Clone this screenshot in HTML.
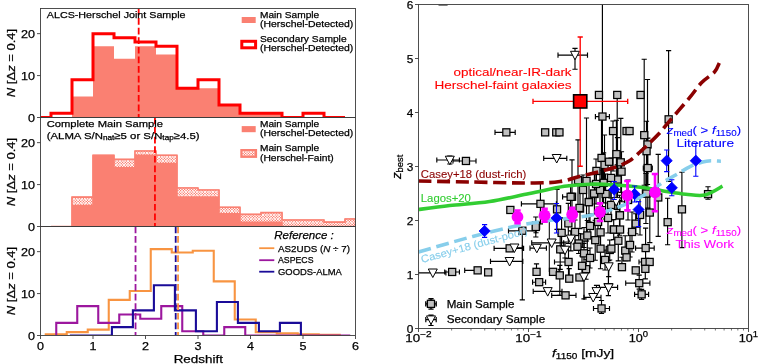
<!DOCTYPE html>
<html><head><meta charset="utf-8"><title>figure</title>
<style>
html,body{margin:0;padding:0;background:#fff;}
body{width:758px;height:364px;overflow:hidden;font-family:"Liberation Sans",sans-serif;}
svg{display:block;will-change:transform;opacity:0.999}
svg text{font-family:"Liberation Sans",sans-serif;}
</style></head><body>
<svg width="758" height="364" viewBox="0 0 758 364">
<rect width="758" height="364" fill="#fff"/>
<clipPath id="c0"><rect x="40.5" y="8.5" width="315.0" height="109.0"/></clipPath>
<clipPath id="c1"><rect x="40.5" y="117.5" width="315.0" height="109.0"/></clipPath>
<clipPath id="c2"><rect x="40.5" y="226.5" width="315.0" height="109.0"/></clipPath>
<g clip-path="url(#c0)">
<path d="M51.00,117.50 L51.00,117.50 L72.00,117.50 L72.00,96.54 L93.00,96.54 L93.00,46.23 L114.00,46.23 L114.00,58.81 L135.00,58.81 L135.00,46.23 L156.00,46.23 L156.00,54.62 L177.00,54.62 L177.00,88.15 L198.00,88.15 L198.00,88.15 L219.00,88.15 L219.00,104.92 L240.00,104.92 L240.00,113.31 L261.00,113.31 L261.00,113.31 L282.00,113.31 L282.00,117.50 L303.00,117.50 L303.00,117.50 L324.00,117.50 L324.00,117.50 L345.00,117.50 L345.00,117.50 L355.50,117.50 L355.50,117.50 Z" fill="#fa8072" stroke="none"/>
<path d="M40.50,117.50 L51.00,117.50 L51.00,113.31 L72.00,113.31 L72.00,79.77 L93.00,79.77 L93.00,33.65 L114.00,33.65 L114.00,37.85 L135.00,37.85 L135.00,42.04 L156.00,42.04 L156.00,46.23 L177.00,46.23 L177.00,88.15 L198.00,88.15 L198.00,79.77 L219.00,79.77 L219.00,104.92 L240.00,104.92 L240.00,113.31 L261.00,113.31 L261.00,113.31 L282.00,113.31 L282.00,117.50 L303.00,117.50 L303.00,113.31 L324.00,113.31 L324.00,117.50 L345.00,117.50 L345.00,117.50" fill="none" stroke="#ff0000" stroke-width="3" stroke-linejoin="miter"/>
<line x1="138.68" x2="138.68" y1="8.5" y2="117.5" stroke="#ff0000" stroke-width="1.8" stroke-dasharray="6.7,2.9"/>
</g>
<pattern id="hx" width="3" height="3" patternUnits="userSpaceOnUse" patternTransform="translate(0.5,0.5)"><rect width="3" height="3" fill="#fa8072"/><path d="M-1,-1L4,4M4,-1L-1,4" stroke="#fff" stroke-width="1.05"/></pattern>
<g clip-path="url(#c1)">
<path d="M40.50,226.50 L51.00,226.50 L51.00,226.50 L72.00,226.50 L72.00,197.15 L93.00,197.15 L93.00,155.23 L114.00,155.23 L114.00,159.42 L135.00,159.42 L135.00,151.04 L156.00,151.04 L156.00,155.23 L177.00,155.23 L177.00,187.93 L198.00,187.93 L198.00,190.03 L219.00,190.03 L219.00,207.22 L240.00,207.22 L240.00,214.34 L261.00,214.34 L261.00,212.67 L282.00,212.67 L282.00,220.00 L303.00,220.00 L303.00,220.00 L324.00,220.00 L324.00,222.10 L345.00,222.10 L345.00,218.95 L355.50,218.95 L355.50,226.50 Z" fill="#fa8072" stroke="#fa8072" stroke-width="1"/>
<clipPath id="hc"><path d="M51.00,226.50 L72.00,226.50 L72.00,197.15 L93.00,197.15 L93.00,155.23 L114.00,155.23 L114.00,159.42 L135.00,159.42 L135.00,151.04 L156.00,151.04 L156.00,155.23 L177.00,155.23 L177.00,187.93 L198.00,187.93 L198.00,190.03 L219.00,190.03 L219.00,207.22 L240.00,207.22 L240.00,214.34 L261.00,214.34 L261.00,212.67 L282.00,212.67 L282.00,220.00 L303.00,220.00 L303.00,220.00 L324.00,220.00 L324.00,222.10 L345.00,222.10 L345.00,218.95 L355.50,218.95 L355.50,226.50 L345.00,226.50 L345.00,226.50 L324.00,226.50 L324.00,226.50 L303.00,226.50 L303.00,226.50 L282.00,226.50 L282.00,222.31 L261.00,222.31 L261.00,222.31 L240.00,222.31 L240.00,213.92 L219.00,213.92 L219.00,197.15 L198.00,197.15 L198.00,197.15 L177.00,197.15 L177.00,163.62 L156.00,163.62 L156.00,155.23 L135.00,155.23 L135.00,167.81 L114.00,167.81 L114.00,155.23 L93.00,155.23 L93.00,205.54 L72.00,205.54 L72.00,226.50 L51.00,226.50Z"/></clipPath>
<path d="M51.00,226.50 L72.00,226.50 L72.00,197.15 L93.00,197.15 L93.00,155.23 L114.00,155.23 L114.00,159.42 L135.00,159.42 L135.00,151.04 L156.00,151.04 L156.00,155.23 L177.00,155.23 L177.00,187.93 L198.00,187.93 L198.00,190.03 L219.00,190.03 L219.00,207.22 L240.00,207.22 L240.00,214.34 L261.00,214.34 L261.00,212.67 L282.00,212.67 L282.00,220.00 L303.00,220.00 L303.00,220.00 L324.00,220.00 L324.00,222.10 L345.00,222.10 L345.00,218.95 L355.50,218.95 L355.50,226.50 L345.00,226.50 L345.00,226.50 L324.00,226.50 L324.00,226.50 L303.00,226.50 L303.00,226.50 L282.00,226.50 L282.00,222.31 L261.00,222.31 L261.00,222.31 L240.00,222.31 L240.00,213.92 L219.00,213.92 L219.00,197.15 L198.00,197.15 L198.00,197.15 L177.00,197.15 L177.00,163.62 L156.00,163.62 L156.00,155.23 L135.00,155.23 L135.00,167.81 L114.00,167.81 L114.00,155.23 L93.00,155.23 L93.00,205.54 L72.00,205.54 L72.00,226.50 L51.00,226.50Z" fill="#fa8072" stroke="none"/>
<path d="M-7.65,146.85l79.65,79.65M72.00,146.85l-79.65,79.65M-4.95,146.85l79.65,79.65M74.70,146.85l-79.65,79.65M-2.25,146.85l79.65,79.65M77.40,146.85l-79.65,79.65M0.45,146.85l79.65,79.65M80.10,146.85l-79.65,79.65M3.15,146.85l79.65,79.65M82.80,146.85l-79.65,79.65M5.85,146.85l79.65,79.65M85.50,146.85l-79.65,79.65M8.55,146.85l79.65,79.65M88.20,146.85l-79.65,79.65M11.25,146.85l79.65,79.65M90.90,146.85l-79.65,79.65M13.95,146.85l79.65,79.65M93.60,146.85l-79.65,79.65M16.65,146.85l79.65,79.65M96.30,146.85l-79.65,79.65M19.35,146.85l79.65,79.65M99.00,146.85l-79.65,79.65M22.05,146.85l79.65,79.65M101.70,146.85l-79.65,79.65M24.75,146.85l79.65,79.65M104.40,146.85l-79.65,79.65M27.45,146.85l79.65,79.65M107.10,146.85l-79.65,79.65M30.15,146.85l79.65,79.65M109.80,146.85l-79.65,79.65M32.85,146.85l79.65,79.65M112.50,146.85l-79.65,79.65M35.55,146.85l79.65,79.65M115.20,146.85l-79.65,79.65M38.25,146.85l79.65,79.65M117.90,146.85l-79.65,79.65M40.95,146.85l79.65,79.65M120.60,146.85l-79.65,79.65M43.65,146.85l79.65,79.65M123.30,146.85l-79.65,79.65M46.35,146.85l79.65,79.65M126.00,146.85l-79.65,79.65M49.05,146.85l79.65,79.65M128.70,146.85l-79.65,79.65M51.75,146.85l79.65,79.65M131.40,146.85l-79.65,79.65M54.45,146.85l79.65,79.65M134.10,146.85l-79.65,79.65M57.15,146.85l79.65,79.65M136.80,146.85l-79.65,79.65M59.85,146.85l79.65,79.65M139.50,146.85l-79.65,79.65M62.55,146.85l79.65,79.65M142.20,146.85l-79.65,79.65M65.25,146.85l79.65,79.65M144.90,146.85l-79.65,79.65M67.95,146.85l79.65,79.65M147.60,146.85l-79.65,79.65M70.65,146.85l79.65,79.65M150.30,146.85l-79.65,79.65M73.35,146.85l79.65,79.65M153.00,146.85l-79.65,79.65M76.05,146.85l79.65,79.65M155.70,146.85l-79.65,79.65M78.75,146.85l79.65,79.65M158.40,146.85l-79.65,79.65M81.45,146.85l79.65,79.65M161.10,146.85l-79.65,79.65M84.15,146.85l79.65,79.65M163.80,146.85l-79.65,79.65M86.85,146.85l79.65,79.65M166.50,146.85l-79.65,79.65M89.55,146.85l79.65,79.65M169.20,146.85l-79.65,79.65M92.25,146.85l79.65,79.65M171.90,146.85l-79.65,79.65M94.95,146.85l79.65,79.65M174.60,146.85l-79.65,79.65M97.65,146.85l79.65,79.65M177.30,146.85l-79.65,79.65M100.35,146.85l79.65,79.65M180.00,146.85l-79.65,79.65M103.05,146.85l79.65,79.65M182.70,146.85l-79.65,79.65M105.75,146.85l79.65,79.65M185.40,146.85l-79.65,79.65M108.45,146.85l79.65,79.65M188.10,146.85l-79.65,79.65M111.15,146.85l79.65,79.65M190.80,146.85l-79.65,79.65M113.85,146.85l79.65,79.65M193.50,146.85l-79.65,79.65M116.55,146.85l79.65,79.65M196.20,146.85l-79.65,79.65M119.25,146.85l79.65,79.65M198.90,146.85l-79.65,79.65M121.95,146.85l79.65,79.65M201.60,146.85l-79.65,79.65M124.65,146.85l79.65,79.65M204.30,146.85l-79.65,79.65M127.35,146.85l79.65,79.65M207.00,146.85l-79.65,79.65M130.05,146.85l79.65,79.65M209.70,146.85l-79.65,79.65M132.75,146.85l79.65,79.65M212.40,146.85l-79.65,79.65M135.45,146.85l79.65,79.65M215.10,146.85l-79.65,79.65M138.15,146.85l79.65,79.65M217.80,146.85l-79.65,79.65M140.85,146.85l79.65,79.65M220.50,146.85l-79.65,79.65M143.55,146.85l79.65,79.65M223.20,146.85l-79.65,79.65M146.25,146.85l79.65,79.65M225.90,146.85l-79.65,79.65M148.95,146.85l79.65,79.65M228.60,146.85l-79.65,79.65M151.65,146.85l79.65,79.65M231.30,146.85l-79.65,79.65M154.35,146.85l79.65,79.65M234.00,146.85l-79.65,79.65M157.05,146.85l79.65,79.65M236.70,146.85l-79.65,79.65M159.75,146.85l79.65,79.65M239.40,146.85l-79.65,79.65M162.45,146.85l79.65,79.65M242.10,146.85l-79.65,79.65M165.15,146.85l79.65,79.65M244.80,146.85l-79.65,79.65M167.85,146.85l79.65,79.65M247.50,146.85l-79.65,79.65M170.55,146.85l79.65,79.65M250.20,146.85l-79.65,79.65M173.25,146.85l79.65,79.65M252.90,146.85l-79.65,79.65M175.95,146.85l79.65,79.65M255.60,146.85l-79.65,79.65M178.65,146.85l79.65,79.65M258.30,146.85l-79.65,79.65M181.35,146.85l79.65,79.65M261.00,146.85l-79.65,79.65M184.05,146.85l79.65,79.65M263.70,146.85l-79.65,79.65M186.75,146.85l79.65,79.65M266.40,146.85l-79.65,79.65M189.45,146.85l79.65,79.65M269.10,146.85l-79.65,79.65M192.15,146.85l79.65,79.65M271.80,146.85l-79.65,79.65M194.85,146.85l79.65,79.65M274.50,146.85l-79.65,79.65M197.55,146.85l79.65,79.65M277.20,146.85l-79.65,79.65M200.25,146.85l79.65,79.65M279.90,146.85l-79.65,79.65M202.95,146.85l79.65,79.65M282.60,146.85l-79.65,79.65M205.65,146.85l79.65,79.65M285.30,146.85l-79.65,79.65M208.35,146.85l79.65,79.65M288.00,146.85l-79.65,79.65M211.05,146.85l79.65,79.65M290.70,146.85l-79.65,79.65M213.75,146.85l79.65,79.65M293.40,146.85l-79.65,79.65M216.45,146.85l79.65,79.65M296.10,146.85l-79.65,79.65M219.15,146.85l79.65,79.65M298.80,146.85l-79.65,79.65M221.85,146.85l79.65,79.65M301.50,146.85l-79.65,79.65M224.55,146.85l79.65,79.65M304.20,146.85l-79.65,79.65M227.25,146.85l79.65,79.65M306.90,146.85l-79.65,79.65M229.95,146.85l79.65,79.65M309.60,146.85l-79.65,79.65M232.65,146.85l79.65,79.65M312.30,146.85l-79.65,79.65M235.35,146.85l79.65,79.65M315.00,146.85l-79.65,79.65M238.05,146.85l79.65,79.65M317.70,146.85l-79.65,79.65M240.75,146.85l79.65,79.65M320.40,146.85l-79.65,79.65M243.45,146.85l79.65,79.65M323.10,146.85l-79.65,79.65M246.15,146.85l79.65,79.65M325.80,146.85l-79.65,79.65M248.85,146.85l79.65,79.65M328.50,146.85l-79.65,79.65M251.55,146.85l79.65,79.65M331.20,146.85l-79.65,79.65M254.25,146.85l79.65,79.65M333.90,146.85l-79.65,79.65M256.95,146.85l79.65,79.65M336.60,146.85l-79.65,79.65M259.65,146.85l79.65,79.65M339.30,146.85l-79.65,79.65M262.35,146.85l79.65,79.65M342.00,146.85l-79.65,79.65M265.05,146.85l79.65,79.65M344.70,146.85l-79.65,79.65M267.75,146.85l79.65,79.65M347.40,146.85l-79.65,79.65M270.45,146.85l79.65,79.65M350.10,146.85l-79.65,79.65M273.15,146.85l79.65,79.65M352.80,146.85l-79.65,79.65M275.85,146.85l79.65,79.65M355.50,146.85l-79.65,79.65M278.55,146.85l79.65,79.65M358.20,146.85l-79.65,79.65M281.25,146.85l79.65,79.65M360.90,146.85l-79.65,79.65M283.95,146.85l79.65,79.65M363.60,146.85l-79.65,79.65M286.65,146.85l79.65,79.65M366.30,146.85l-79.65,79.65M289.35,146.85l79.65,79.65M369.00,146.85l-79.65,79.65M292.05,146.85l79.65,79.65M371.70,146.85l-79.65,79.65M294.75,146.85l79.65,79.65M374.40,146.85l-79.65,79.65M297.45,146.85l79.65,79.65M377.10,146.85l-79.65,79.65M300.15,146.85l79.65,79.65M379.80,146.85l-79.65,79.65M302.85,146.85l79.65,79.65M382.50,146.85l-79.65,79.65M305.55,146.85l79.65,79.65M385.20,146.85l-79.65,79.65M308.25,146.85l79.65,79.65M387.90,146.85l-79.65,79.65M310.95,146.85l79.65,79.65M390.60,146.85l-79.65,79.65M313.65,146.85l79.65,79.65M393.30,146.85l-79.65,79.65M316.35,146.85l79.65,79.65M396.00,146.85l-79.65,79.65M319.05,146.85l79.65,79.65M398.70,146.85l-79.65,79.65M321.75,146.85l79.65,79.65M401.40,146.85l-79.65,79.65M324.45,146.85l79.65,79.65M404.10,146.85l-79.65,79.65M327.15,146.85l79.65,79.65M406.80,146.85l-79.65,79.65M329.85,146.85l79.65,79.65M409.50,146.85l-79.65,79.65M332.55,146.85l79.65,79.65M412.20,146.85l-79.65,79.65M335.25,146.85l79.65,79.65M414.90,146.85l-79.65,79.65M337.95,146.85l79.65,79.65M417.60,146.85l-79.65,79.65M340.65,146.85l79.65,79.65M420.30,146.85l-79.65,79.65M343.35,146.85l79.65,79.65M423.00,146.85l-79.65,79.65M346.05,146.85l79.65,79.65M425.70,146.85l-79.65,79.65M348.75,146.85l79.65,79.65M428.40,146.85l-79.65,79.65M351.45,146.85l79.65,79.65M431.10,146.85l-79.65,79.65M354.15,146.85l79.65,79.65M433.80,146.85l-79.65,79.65M356.85,146.85l79.65,79.65M436.50,146.85l-79.65,79.65M359.55,146.85l79.65,79.65M439.20,146.85l-79.65,79.65M362.25,146.85l79.65,79.65M441.90,146.85l-79.65,79.65M364.95,146.85l79.65,79.65M444.60,146.85l-79.65,79.65M367.65,146.85l79.65,79.65M447.30,146.85l-79.65,79.65M370.35,146.85l79.65,79.65M450.00,146.85l-79.65,79.65M373.05,146.85l79.65,79.65M452.70,146.85l-79.65,79.65M375.75,146.85l79.65,79.65M455.40,146.85l-79.65,79.65M378.45,146.85l79.65,79.65M458.10,146.85l-79.65,79.65M381.15,146.85l79.65,79.65M460.80,146.85l-79.65,79.65M383.85,146.85l79.65,79.65M463.50,146.85l-79.65,79.65M386.55,146.85l79.65,79.65M466.20,146.85l-79.65,79.65M389.25,146.85l79.65,79.65M468.90,146.85l-79.65,79.65M391.95,146.85l79.65,79.65M471.60,146.85l-79.65,79.65M394.65,146.85l79.65,79.65M474.30,146.85l-79.65,79.65M397.35,146.85l79.65,79.65M477.00,146.85l-79.65,79.65M400.05,146.85l79.65,79.65M479.70,146.85l-79.65,79.65M402.75,146.85l79.65,79.65M482.40,146.85l-79.65,79.65M405.45,146.85l79.65,79.65M485.10,146.85l-79.65,79.65M408.15,146.85l79.65,79.65M487.80,146.85l-79.65,79.65M410.85,146.85l79.65,79.65M490.50,146.85l-79.65,79.65M413.55,146.85l79.65,79.65M493.20,146.85l-79.65,79.65M416.25,146.85l79.65,79.65M495.90,146.85l-79.65,79.65M418.95,146.85l79.65,79.65M498.60,146.85l-79.65,79.65M421.65,146.85l79.65,79.65M501.30,146.85l-79.65,79.65M424.35,146.85l79.65,79.65M504.00,146.85l-79.65,79.65M427.05,146.85l79.65,79.65M506.70,146.85l-79.65,79.65M429.75,146.85l79.65,79.65M509.40,146.85l-79.65,79.65M432.45,146.85l79.65,79.65M512.10,146.85l-79.65,79.65M435.15,146.85l79.65,79.65M514.80,146.85l-79.65,79.65" stroke="#fff" stroke-width="0.95" fill="none" clip-path="url(#hc)"/>
<path d="M51.00,226.50 L72.00,226.50 L72.00,197.15 L93.00,197.15 L93.00,155.23 L114.00,155.23 L114.00,159.42 L135.00,159.42 L135.00,151.04 L156.00,151.04 L156.00,155.23 L177.00,155.23 L177.00,187.93 L198.00,187.93 L198.00,190.03 L219.00,190.03 L219.00,207.22 L240.00,207.22 L240.00,214.34 L261.00,214.34 L261.00,212.67 L282.00,212.67 L282.00,220.00 L303.00,220.00 L303.00,220.00 L324.00,220.00 L324.00,222.10 L345.00,222.10 L345.00,218.95 L355.50,218.95 L355.50,226.50 L345.00,226.50 L345.00,226.50 L324.00,226.50 L324.00,226.50 L303.00,226.50 L303.00,226.50 L282.00,226.50 L282.00,222.31 L261.00,222.31 L261.00,222.31 L240.00,222.31 L240.00,213.92 L219.00,213.92 L219.00,197.15 L198.00,197.15 L198.00,197.15 L177.00,197.15 L177.00,163.62 L156.00,163.62 L156.00,155.23 L135.00,155.23 L135.00,167.81 L114.00,167.81 L114.00,155.23 L93.00,155.23 L93.00,205.54 L72.00,205.54 L72.00,226.50 L51.00,226.50Z" fill="none" stroke="#fa8072" stroke-width="1.6" stroke-linejoin="miter"/>
<line x1="154.95" x2="154.95" y1="117.5" y2="226.5" stroke="#ff0000" stroke-width="1.8" stroke-dasharray="6.7,2.9"/>
</g>
<g clip-path="url(#c2)">
<path d="M45.75,335.50 L45.75,334.24 L66.75,334.24 L66.75,332.15 L87.75,332.15 L87.75,329.63 L108.75,329.63 L108.75,299.87 L129.75,299.87 L129.75,291.06 L150.75,291.06 L150.75,249.14 L171.75,249.14 L171.75,252.49 L192.75,252.49 L192.75,250.82 L213.75,250.82 L213.75,281.42 L234.75,281.42 L234.75,319.57 L255.75,319.57 L255.75,332.15 L276.75,332.15 L276.75,333.40 L297.75,333.40 L297.75,334.24 L318.75,334.24 L318.75,334.87 L339.75,334.87 L339.75,335.50" fill="none" stroke="#f89441" stroke-width="2.1"/>
<path d="M56.25,335.50 L56.25,322.92 L77.25,322.92 L77.25,306.15 L98.25,306.15 L98.25,322.92 L119.25,322.92 L119.25,314.54 L140.25,314.54 L140.25,318.73 L161.25,318.73 L161.25,306.15 L182.25,306.15 L182.25,331.31 L203.25,331.31 L203.25,335.50 L224.25,335.50 L224.25,327.12 L245.25,327.12 L245.25,335.50 L266.25,335.50 L266.25,335.50 L287.25,335.50 L287.25,335.50 L308.25,335.50 L308.25,335.50 L329.25,335.50 L329.25,335.50 L350.25,335.50 L350.25,335.50" fill="none" stroke="#9c179e" stroke-width="2.1"/>
<path d="M69.90,335.50 L69.90,335.50 L90.90,335.50 L90.90,335.50 L111.90,335.50 L111.90,327.12 L132.90,327.12 L132.90,310.35 L153.90,310.35 L153.90,285.19 L174.90,285.19 L174.90,310.35 L195.90,310.35 L195.90,331.31 L216.90,331.31 L216.90,301.96 L237.90,301.96 L237.90,322.92 L258.90,322.92 L258.90,331.31 L279.90,331.31 L279.90,322.92 L300.90,322.92 L300.90,335.50" fill="none" stroke="#1a0b98" stroke-width="2.1"/>
<line x1="135.53" x2="135.53" y1="226.5" y2="335.5" stroke="#9c179e" stroke-width="1.8" stroke-dasharray="6.7,2.9"/>
<line x1="178.05" x2="178.05" y1="226.5" y2="335.5" stroke="#f89441" stroke-width="1.8" stroke-dasharray="6.7,2.9"/>
<line x1="175.69" x2="175.69" y1="226.5" y2="335.5" stroke="#1a0b98" stroke-width="1.8" stroke-dasharray="6.7,2.9"/>
</g>
<rect x="40.5" y="8.5" width="315.0" height="109.0" fill="none" stroke="#3c3c3c" stroke-width="0.9"/>
<line x1="37.0" x2="40.5" y1="117.50" y2="117.50" stroke="#3c3c3c" stroke-width="0.9"/>
<text x="35.00" y="121.60" font-size="11.3" fill="#000" text-anchor="end" textLength="7.00" lengthAdjust="spacingAndGlyphs"  stroke="#000" stroke-width="0.25">0</text>
<line x1="37.0" x2="40.5" y1="75.58" y2="75.58" stroke="#3c3c3c" stroke-width="0.9"/>
<text x="35.00" y="79.68" font-size="11.3" fill="#000" text-anchor="end" textLength="14.00" lengthAdjust="spacingAndGlyphs"  stroke="#000" stroke-width="0.25">10</text>
<line x1="37.0" x2="40.5" y1="33.65" y2="33.65" stroke="#3c3c3c" stroke-width="0.9"/>
<text x="35.00" y="37.75" font-size="11.3" fill="#000" text-anchor="end" textLength="14.00" lengthAdjust="spacingAndGlyphs"  stroke="#000" stroke-width="0.25">20</text>
<g transform="translate(15,63.00) rotate(-90)">
<text x="0" y="0" font-size="11.2" text-anchor="middle" textLength="68.5" lengthAdjust="spacingAndGlyphs" stroke="#000" stroke-width="0.25"><tspan font-style="italic">N</tspan> [Δ<tspan font-style="italic">z</tspan> = 0.4]</text>
</g>
<rect x="40.5" y="117.5" width="315.0" height="109.0" fill="none" stroke="#3c3c3c" stroke-width="0.9"/>
<line x1="37.0" x2="40.5" y1="226.50" y2="226.50" stroke="#3c3c3c" stroke-width="0.9"/>
<text x="35.00" y="230.60" font-size="11.3" fill="#000" text-anchor="end" textLength="7.00" lengthAdjust="spacingAndGlyphs"  stroke="#000" stroke-width="0.25">0</text>
<line x1="37.0" x2="40.5" y1="184.58" y2="184.58" stroke="#3c3c3c" stroke-width="0.9"/>
<text x="35.00" y="188.68" font-size="11.3" fill="#000" text-anchor="end" textLength="14.00" lengthAdjust="spacingAndGlyphs"  stroke="#000" stroke-width="0.25">10</text>
<line x1="37.0" x2="40.5" y1="142.65" y2="142.65" stroke="#3c3c3c" stroke-width="0.9"/>
<text x="35.00" y="146.75" font-size="11.3" fill="#000" text-anchor="end" textLength="14.00" lengthAdjust="spacingAndGlyphs"  stroke="#000" stroke-width="0.25">20</text>
<g transform="translate(15,172.00) rotate(-90)">
<text x="0" y="0" font-size="11.2" text-anchor="middle" textLength="68.5" lengthAdjust="spacingAndGlyphs" stroke="#000" stroke-width="0.25"><tspan font-style="italic">N</tspan> [Δ<tspan font-style="italic">z</tspan> = 0.4]</text>
</g>
<rect x="40.5" y="226.5" width="315.0" height="109.0" fill="none" stroke="#3c3c3c" stroke-width="0.9"/>
<line x1="37.0" x2="40.5" y1="335.50" y2="335.50" stroke="#3c3c3c" stroke-width="0.9"/>
<text x="35.00" y="339.60" font-size="11.3" fill="#000" text-anchor="end" textLength="7.00" lengthAdjust="spacingAndGlyphs"  stroke="#000" stroke-width="0.25">0</text>
<line x1="37.0" x2="40.5" y1="293.58" y2="293.58" stroke="#3c3c3c" stroke-width="0.9"/>
<text x="35.00" y="297.68" font-size="11.3" fill="#000" text-anchor="end" textLength="14.00" lengthAdjust="spacingAndGlyphs"  stroke="#000" stroke-width="0.25">10</text>
<line x1="37.0" x2="40.5" y1="251.65" y2="251.65" stroke="#3c3c3c" stroke-width="0.9"/>
<text x="35.00" y="255.75" font-size="11.3" fill="#000" text-anchor="end" textLength="14.00" lengthAdjust="spacingAndGlyphs"  stroke="#000" stroke-width="0.25">20</text>
<g transform="translate(15,281.00) rotate(-90)">
<text x="0" y="0" font-size="11.2" text-anchor="middle" textLength="68.5" lengthAdjust="spacingAndGlyphs" stroke="#000" stroke-width="0.25"><tspan font-style="italic">N</tspan> [Δ<tspan font-style="italic">z</tspan> = 0.4]</text>
</g>
<line x1="40.50" x2="40.50" y1="335.5" y2="339.0" stroke="#3c3c3c" stroke-width="0.9"/>
<text x="40.50" y="349.60" font-size="11.3" fill="#000" text-anchor="middle" textLength="7.00" lengthAdjust="spacingAndGlyphs"  stroke="#000" stroke-width="0.25">0</text>
<line x1="93.00" x2="93.00" y1="335.5" y2="339.0" stroke="#3c3c3c" stroke-width="0.9"/>
<text x="93.00" y="349.60" font-size="11.3" fill="#000" text-anchor="middle" textLength="7.00" lengthAdjust="spacingAndGlyphs"  stroke="#000" stroke-width="0.25">1</text>
<line x1="145.50" x2="145.50" y1="335.5" y2="339.0" stroke="#3c3c3c" stroke-width="0.9"/>
<text x="145.50" y="349.60" font-size="11.3" fill="#000" text-anchor="middle" textLength="7.00" lengthAdjust="spacingAndGlyphs"  stroke="#000" stroke-width="0.25">2</text>
<line x1="198.00" x2="198.00" y1="335.5" y2="339.0" stroke="#3c3c3c" stroke-width="0.9"/>
<text x="198.00" y="349.60" font-size="11.3" fill="#000" text-anchor="middle" textLength="7.00" lengthAdjust="spacingAndGlyphs"  stroke="#000" stroke-width="0.25">3</text>
<line x1="250.50" x2="250.50" y1="335.5" y2="339.0" stroke="#3c3c3c" stroke-width="0.9"/>
<text x="250.50" y="349.60" font-size="11.3" fill="#000" text-anchor="middle" textLength="7.00" lengthAdjust="spacingAndGlyphs"  stroke="#000" stroke-width="0.25">4</text>
<line x1="303.00" x2="303.00" y1="335.5" y2="339.0" stroke="#3c3c3c" stroke-width="0.9"/>
<text x="303.00" y="349.60" font-size="11.3" fill="#000" text-anchor="middle" textLength="7.00" lengthAdjust="spacingAndGlyphs"  stroke="#000" stroke-width="0.25">5</text>
<line x1="355.50" x2="355.50" y1="335.5" y2="339.0" stroke="#3c3c3c" stroke-width="0.9"/>
<text x="355.50" y="349.60" font-size="11.3" fill="#000" text-anchor="middle" textLength="7.00" lengthAdjust="spacingAndGlyphs"  stroke="#000" stroke-width="0.25">6</text>
<text x="198.30" y="363.20" font-size="11.6" fill="#000" text-anchor="middle" textLength="49.30" lengthAdjust="spacingAndGlyphs"  stroke="#000" stroke-width="0.25">Redshift</text>
<text x="46.80" y="18.10" font-size="9.9" fill="#000" text-anchor="start" textLength="138.80" lengthAdjust="spacingAndGlyphs"  stroke="#000" stroke-width="0.25">ALCS-Herschel Joint Sample</text>
<rect x="241.7" y="17" width="14" height="6" fill="#fa8072"/>
<text x="260.00" y="17.50" font-size="9.7" fill="#000" text-anchor="start" textLength="59.20" lengthAdjust="spacingAndGlyphs"  stroke="#000" stroke-width="0.25">Main Sample</text>
<text x="260.00" y="27.30" font-size="9.7" fill="#000" text-anchor="start" textLength="93.20" lengthAdjust="spacingAndGlyphs"  stroke="#000" stroke-width="0.25">(Herschel-Detected)</text>
<rect x="241.8" y="41.3" width="13.8" height="6.5" fill="none" stroke="#ff0000" stroke-width="3"/>
<text x="260.00" y="41.90" font-size="9.7" fill="#000" text-anchor="start" textLength="86.60" lengthAdjust="spacingAndGlyphs"  stroke="#000" stroke-width="0.25">Secondary Sample</text>
<text x="260.00" y="51.30" font-size="9.7" fill="#000" text-anchor="start" textLength="93.20" lengthAdjust="spacingAndGlyphs"  stroke="#000" stroke-width="0.25">(Herschel-Detected)</text>
<text x="46.70" y="127.30" font-size="9.9" fill="#000" text-anchor="start" textLength="116.20" lengthAdjust="spacingAndGlyphs"  stroke="#000" stroke-width="0.25">Complete Main Sample</text>
<text x="46.7" y="138.5" font-size="9.9" textLength="152.9" lengthAdjust="spacingAndGlyphs" stroke="#000" stroke-width="0.25">(ALMA S/N<tspan font-size="7.1" dy="1.8">nat</tspan><tspan dy="-1.8">≥5 or S/N</tspan><tspan font-size="7.1" dy="1.8">tap</tspan><tspan dy="-1.8">≥4.5)</tspan></text>
<rect x="241.7" y="126.1" width="14" height="6.1" fill="#fa8072"/>
<text x="260.00" y="126.70" font-size="9.7" fill="#000" text-anchor="start" textLength="59.20" lengthAdjust="spacingAndGlyphs"  stroke="#000" stroke-width="0.25">Main Sample</text>
<text x="260.00" y="136.10" font-size="9.7" fill="#000" text-anchor="start" textLength="93.20" lengthAdjust="spacingAndGlyphs"  stroke="#000" stroke-width="0.25">(Herschel-Detected)</text>
<rect x="240.3" y="149" width="16.8" height="8.9" fill="#fa8072"/>
<clipPath id="hl"><rect x="242.6" y="151.3" width="11.9" height="4.3"/></clipPath>
<path d="M236.00,150.50l5.90,5.90M241.90,150.50l-5.90,5.90M238.70,150.50l5.90,5.90M244.60,150.50l-5.90,5.90M241.40,150.50l5.90,5.90M247.30,150.50l-5.90,5.90M244.10,150.50l5.90,5.90M250.00,150.50l-5.90,5.90M246.80,150.50l5.90,5.90M252.70,150.50l-5.90,5.90M249.50,150.50l5.90,5.90M255.40,150.50l-5.90,5.90M252.20,150.50l5.90,5.90M258.10,150.50l-5.90,5.90M254.90,150.50l5.90,5.90M260.80,150.50l-5.90,5.90M257.60,150.50l5.90,5.90M263.50,150.50l-5.90,5.90M260.30,150.50l5.90,5.90M266.20,150.50l-5.90,5.90" stroke="#fff" stroke-width="0.95" fill="none" clip-path="url(#hl)"/>
<text x="260.00" y="150.70" font-size="9.7" fill="#000" text-anchor="start" textLength="59.20" lengthAdjust="spacingAndGlyphs"  stroke="#000" stroke-width="0.25">Main Sample</text>
<text x="260.00" y="160.50" font-size="9.7" fill="#000" text-anchor="start" textLength="73.80" lengthAdjust="spacingAndGlyphs"  stroke="#000" stroke-width="0.25">(Herschel-Faint)</text>
<text x="274.3" y="238.7" font-size="11" font-style="italic" textLength="59.5" lengthAdjust="spacingAndGlyphs" stroke="#000" stroke-width="0.25">Reference :</text>
<line x1="259.2" x2="274.3" y1="248.2" y2="248.2" stroke="#f89441" stroke-width="1.8"/>
<line x1="259.2" x2="274.3" y1="260.2" y2="260.2" stroke="#9c179e" stroke-width="1.8"/>
<text x="278.00" y="263.30" font-size="9.7" fill="#000" text-anchor="start" textLength="35.50" lengthAdjust="spacingAndGlyphs"  stroke="#000" stroke-width="0.25">ASPECS</text>
<line x1="259.2" x2="274.3" y1="271.7" y2="271.7" stroke="#1a0b98" stroke-width="1.8"/>
<text x="278.00" y="275.10" font-size="9.7" fill="#000" text-anchor="start" textLength="63.80" lengthAdjust="spacingAndGlyphs"  stroke="#000" stroke-width="0.25">GOODS-ALMA</text>
<text x="278" y="251.6" font-size="9.7" textLength="72" lengthAdjust="spacingAndGlyphs" stroke="#000" stroke-width="0.25">AS2UDS (<tspan font-style="italic">N</tspan> ÷ 7)</text>
<clipPath id="cr"><rect x="418.5" y="4.5" width="330.0" height="324.0"/></clipPath>
<g clip-path="url(#cr)">
<path d="M549.3,220V272" stroke="#000" stroke-width="1.05"/>
<path d="M617.2,94.9V164.9M614.6,164.9H619.8" stroke="#000" stroke-width="1.15" fill="none"/>
<path d="M595.4,116.6H609.4M595.4,114.0V119.2M609.4,114.0V119.2M602.4,3.6V206.6M599.8,3.6H605.0M599.8,206.6H605.0" stroke="#000" stroke-width="1.15" fill="none"/>
<path d="M668.6,50.6V181.3M666.0,50.6H671.2M666.0,181.3H671.2" stroke="#000" stroke-width="1.15" fill="none"/>
<path d="M495.0,132.4H515.2M495.0,129.8V135.0M515.2,129.8V135.0" stroke="#000" stroke-width="1.15" fill="none"/>
<path d="M613.0,121.0V171.0M610.4,121.0H615.6M610.4,171.0H615.6" stroke="#000" stroke-width="1.15" fill="none"/>
<path d="M644.2,59.2V185.2M641.6,59.2H646.8M641.6,185.2H646.8" stroke="#000" stroke-width="1.15" fill="none"/>
<path d="M647.5,79.5V184.5M644.9,79.5H650.1M644.9,184.5H650.1" stroke="#000" stroke-width="1.15" fill="none"/>
<path d="M453.0,161.0H476.0M453.0,158.4V163.6M476.0,158.4V163.6" stroke="#000" stroke-width="1.15" fill="none"/>
<path d="M601.5,118.0V188.0M598.9,118.0H604.1M598.9,188.0H604.1" stroke="#000" stroke-width="1.15" fill="none"/>
<path d="M604.5,135.0V195.0M601.9,135.0H607.1M601.9,195.0H607.1" stroke="#000" stroke-width="1.15" fill="none"/>
<path d="M596.4,171.0V191.0M593.8,191.0H599.0" stroke="#000" stroke-width="1.15" fill="none"/>
<path d="M616.4,120.2V184.2M613.8,120.2H619.0M613.8,184.2H619.0" stroke="#000" stroke-width="1.15" fill="none"/>
<path d="M620.8,118.4V192.4M618.2,118.4H623.4M618.2,192.4H623.4" stroke="#000" stroke-width="1.15" fill="none"/>
<path d="M621.5,151.7V201.7M618.9,151.7H624.1M618.9,201.7H624.1" stroke="#000" stroke-width="1.15" fill="none"/>
<path d="M617.5,137.6V209.6M614.9,137.6H620.1M614.9,209.6H620.1" stroke="#000" stroke-width="1.15" fill="none"/>
<path d="M603.6,152.9V202.9M601.0,152.9H606.2M601.0,202.9H606.2" stroke="#000" stroke-width="1.15" fill="none"/>
<path d="M578.0,139.8V210.2M575.4,139.8H580.6M575.4,210.2H580.6" stroke="#000" stroke-width="1.15" fill="none"/>
<path d="M586.5,118.0V241.0M583.9,118.0H589.1M583.9,241.0H589.1" stroke="#000" stroke-width="1.15" fill="none"/>
<path d="M646.5,121.2V191.2M643.9,121.2H649.1M643.9,191.2H649.1" stroke="#000" stroke-width="1.15" fill="none"/>
<path d="M643.3,168.1H652.3M643.3,165.5V170.7M652.3,165.5V170.7M647.8,138.1V208.1M645.2,138.1H650.4M645.2,208.1H650.4" stroke="#000" stroke-width="1.15" fill="none"/>
<path d="M572.0,159.8V216.8M569.4,159.8H574.6M569.4,216.8H574.6" stroke="#000" stroke-width="1.15" fill="none"/>
<path d="M594.4,174.0V214.0M591.8,174.0H597.0M591.8,214.0H597.0" stroke="#000" stroke-width="1.15" fill="none"/>
<path d="M605.6,174.0V219.0M603.0,174.0H608.2M603.0,219.0H608.2" stroke="#000" stroke-width="1.15" fill="none"/>
<path d="M589.0,182.0V222.0M586.4,182.0H591.6M586.4,222.0H591.6" stroke="#000" stroke-width="1.15" fill="none"/>
<path d="M580.0,183.6V228.6M577.4,183.6H582.6M577.4,228.6H582.6" stroke="#000" stroke-width="1.15" fill="none"/>
<path d="M619.5,195.2V235.2M616.9,195.2H622.1M616.9,235.2H622.1" stroke="#000" stroke-width="1.15" fill="none"/>
<path d="M645.9,173.5V223.5M643.3,173.5H648.5M643.3,223.5H648.5" stroke="#000" stroke-width="1.15" fill="none"/>
<path d="M649.8,192.6V242.6M647.2,192.6H652.4M647.2,242.6H652.4" stroke="#000" stroke-width="1.15" fill="none"/>
<path d="M658.2,154.3V236.4M655.6,154.3H660.8M655.6,236.4H660.8" stroke="#000" stroke-width="1.15" fill="none"/>
<path d="M667.6,198.2V244.7M665.0,198.2H670.2M665.0,244.7H670.2" stroke="#000" stroke-width="1.15" fill="none"/>
<path d="M521.4,203.9H556.4M521.4,201.3V206.5M556.4,201.3V206.5M540.4,182.9V223.9M537.8,182.9H543.0M537.8,223.9H543.0" stroke="#000" stroke-width="1.15" fill="none"/>
<path d="M562.6,196.9H570.6M562.6,194.3V199.5M570.6,184.9V216.9M568.0,184.9H573.2M568.0,216.9H573.2" stroke="#000" stroke-width="1.15" fill="none"/>
<path d="M557.0,189.4V229.4M554.4,189.4H559.6M554.4,229.4H559.6" stroke="#000" stroke-width="1.15" fill="none"/>
<path d="M536.0,225.7V232.7M533.4,232.7H538.6" stroke="#000" stroke-width="1.15" fill="none"/>
<path d="M508.5,230.8H535.8M508.5,228.2V233.4M535.8,228.2V233.4M522.3,230.8V299.8M519.7,299.8H524.9" stroke="#000" stroke-width="1.15" fill="none"/>
<path d="M568.3,203.3V243.3M565.7,203.3H570.9M565.7,243.3H570.9" stroke="#000" stroke-width="1.15" fill="none"/>
<path d="M600.0,170.0V210.0M597.4,170.0H602.6M597.4,210.0H602.6" stroke="#000" stroke-width="1.15" fill="none"/>
<path d="M535.8,217.0V237.0M533.2,217.0H538.4M533.2,237.0H538.4" stroke="#000" stroke-width="1.15" fill="none"/>
<path d="M561.6,217.9V252.9M559.0,217.9H564.2M559.0,252.9H564.2" stroke="#000" stroke-width="1.15" fill="none"/>
<path d="M560.2,234.4V269.4M557.6,234.4H562.8M557.6,269.4H562.8" stroke="#000" stroke-width="1.15" fill="none"/>
<path d="M554.5,262.0H568.5M554.5,259.4V264.6M568.5,247.0V277.0M565.9,247.0H571.1M565.9,277.0H571.1" stroke="#000" stroke-width="1.15" fill="none"/>
<path d="M584.0,227.5V247.5M581.4,227.5H586.6M581.4,247.5H586.6" stroke="#000" stroke-width="1.15" fill="none"/>
<path d="M587.3,220.5V250.5M584.7,220.5H589.9M584.7,250.5H589.9" stroke="#000" stroke-width="1.15" fill="none"/>
<path d="M578.7,233.5V253.5M576.1,233.5H581.3M576.1,253.5H581.3" stroke="#000" stroke-width="1.15" fill="none"/>
<path d="M584.0,243.4V263.4M581.4,243.4H586.6M581.4,263.4H586.6" stroke="#000" stroke-width="1.15" fill="none"/>
<path d="M595.2,220.2V260.2M592.6,220.2H597.8M592.6,260.2H597.8" stroke="#000" stroke-width="1.15" fill="none"/>
<path d="M600.5,217.3V247.3M597.9,217.3H603.1M597.9,247.3H603.1" stroke="#000" stroke-width="1.15" fill="none"/>
<path d="M600.5,233.7V268.7M597.9,233.7H603.1M597.9,268.7H603.1" stroke="#000" stroke-width="1.15" fill="none"/>
<path d="M609.7,240.0V260.0M607.1,240.0H612.3M607.1,260.0H612.3" stroke="#000" stroke-width="1.15" fill="none"/>
<path d="M613.7,219.6V239.6M611.1,219.6H616.3M611.1,239.6H616.3" stroke="#000" stroke-width="1.15" fill="none"/>
<path d="M618.3,230.8V260.8M615.7,230.8H620.9M615.7,260.8H620.9" stroke="#000" stroke-width="1.15" fill="none"/>
<path d="M586.0,259.2V279.2M583.4,259.2H588.6M583.4,279.2H588.6" stroke="#000" stroke-width="1.15" fill="none"/>
<path d="M582.0,255.9V275.9M579.4,255.9H584.6M579.4,275.9H584.6" stroke="#000" stroke-width="1.15" fill="none"/>
<path d="M536.5,263.9V271.9M533.9,263.9H539.1" stroke="#000" stroke-width="1.15" fill="none"/>
<path d="M553.0,271.9H559.0M559.0,269.3V274.5" stroke="#000" stroke-width="1.15" fill="none"/>
<path d="M559.8,265.3V295.3M557.2,265.3H562.4M557.2,295.3H562.4" stroke="#000" stroke-width="1.15" fill="none"/>
<path d="M569.2,268.6V278.6M566.6,268.6H571.8" stroke="#000" stroke-width="1.15" fill="none"/>
<path d="M532.6,282.2H545.6M532.6,279.6V284.8M545.6,279.6V284.8" stroke="#000" stroke-width="1.15" fill="none"/>
<path d="M551.7,295.3H576.0M551.7,292.7V297.9M576.0,292.7V297.9" stroke="#000" stroke-width="1.15" fill="none"/>
<path d="M593.5,308.5H609.5M593.5,305.9V311.1M609.5,305.9V311.1M601.5,300.5V313.5M598.9,300.5H604.1M598.9,313.5H604.1" stroke="#000" stroke-width="1.15" fill="none"/>
<path d="M619.9,200.3V230.3M617.3,200.3H622.5M617.3,230.3H622.5" stroke="#000" stroke-width="1.15" fill="none"/>
<path d="M635.7,213.7V233.7M633.1,213.7H638.3M633.1,233.7H638.3" stroke="#000" stroke-width="1.15" fill="none"/>
<path d="M681.9,172.2V247.6M679.3,172.2H684.5M679.3,247.6H684.5" stroke="#000" stroke-width="1.15" fill="none"/>
<path d="M708.0,186.7V199.2M705.4,186.7H710.6M705.4,199.2H710.6" stroke="#000" stroke-width="1.15" fill="none"/>
<path d="M625.2,235.7V260.7M622.6,235.7H627.8M622.6,260.7H627.8" stroke="#000" stroke-width="1.15" fill="none"/>
<path d="M621.9,257.2V267.2M619.3,257.2H624.5" stroke="#000" stroke-width="1.15" fill="none"/>
<path d="M635.6,248.1H654.2M635.6,245.5V250.7M654.2,245.5V250.7M645.6,228.1V263.1M643.0,228.1H648.2M643.0,263.1H648.2" stroke="#000" stroke-width="1.15" fill="none"/>
<path d="M639.0,262.0H645.0M639.0,259.4V264.6" stroke="#000" stroke-width="1.15" fill="none"/>
<path d="M645.3,268.9V278.9M642.7,278.9H647.9" stroke="#000" stroke-width="1.15" fill="none"/>
<path d="M625.7,283.1H649.9M625.7,280.5V285.7M649.9,280.5V285.7M639.2,275.1V289.1M636.6,275.1H641.8M636.6,289.1H641.8" stroke="#000" stroke-width="1.15" fill="none"/>
<path d="M634.6,294.3H648.6M634.6,291.7V296.9M648.6,291.7V296.9M641.6,289.3V299.3M639.0,289.3H644.2M639.0,299.3H644.2" stroke="#000" stroke-width="1.15" fill="none"/>
<path d="M444.7,272.0H459.4M444.7,269.4V274.6M459.4,269.4V274.6" stroke="#000" stroke-width="1.15" fill="none"/>
<path d="M464.7,270.4H477.7M464.7,267.8V273.0" stroke="#000" stroke-width="1.15" fill="none"/>
<path d="M494.1,248.4H523.6M494.1,245.8V251.0M523.6,245.8V251.0" stroke="#000" stroke-width="1.15" fill="none"/>
<path d="M628.0,180.0V220.0M625.4,180.0H630.6M625.4,220.0H630.6" stroke="#000" stroke-width="1.15" fill="none"/>
<path d="M632.0,212.0V252.0M629.4,212.0H634.6M629.4,252.0H634.6" stroke="#000" stroke-width="1.15" fill="none"/>
<path d="M640.0,195.0V235.0M637.4,195.0H642.6M637.4,235.0H642.6" stroke="#000" stroke-width="1.15" fill="none"/>
<path d="M611.0,190.0V220.0M608.4,190.0H613.6M608.4,220.0H613.6" stroke="#000" stroke-width="1.15" fill="none"/>
<path d="M598.0,207.0V237.0M595.4,207.0H600.6M595.4,237.0H600.6" stroke="#000" stroke-width="1.15" fill="none"/>
<path d="M608.0,203.0V233.0M605.4,203.0H610.6M605.4,233.0H610.6" stroke="#000" stroke-width="1.15" fill="none"/>
<path d="M590.0,214.0V238.0M587.4,214.0H592.6M587.4,238.0H592.6" stroke="#000" stroke-width="1.15" fill="none"/>
<path d="M575.0,220.0V244.0M572.4,220.0H577.6M572.4,244.0H577.6" stroke="#000" stroke-width="1.15" fill="none"/>
<path d="M590.0,248.0V268.0M587.4,248.0H592.6M587.4,268.0H592.6" stroke="#000" stroke-width="1.15" fill="none"/>
<path d="M605.0,250.0V270.0M602.4,250.0H607.6M602.4,270.0H607.6" stroke="#000" stroke-width="1.15" fill="none"/>
<path d="M630.0,233.0V257.0M627.4,233.0H632.6M627.4,257.0H632.6" stroke="#000" stroke-width="1.15" fill="none"/>
<path d="M583.0,175.0V205.0M580.4,175.0H585.6M580.4,205.0H585.6" stroke="#000" stroke-width="1.15" fill="none"/>
<path d="M611.0,158.0V198.0M608.4,158.0H613.6M608.4,198.0H613.6" stroke="#000" stroke-width="1.15" fill="none"/>
<path d="M596.0,159.0V204.0M593.4,159.0H598.6M593.4,204.0H598.6" stroke="#000" stroke-width="1.15" fill="none"/>
<path d="M558.0,55.1H587.5M558.0,52.5V57.7M587.5,52.5V57.7M575.0,48.3V69.2M572.4,48.3H577.6M572.4,69.2H577.6" stroke="#000" stroke-width="1.15" fill="none"/>
<path d="M436.8,160.0H459.4M436.8,157.4V162.6M459.4,157.4V162.6M449.8,156.0V164.0M447.2,156.0H452.4M447.2,164.0H452.4" stroke="#000" stroke-width="1.15" fill="none"/>
<path d="M543.7,158.3H566.8M543.7,155.7V160.9M566.8,155.7V160.9" stroke="#000" stroke-width="1.15" fill="none"/>
<path d="M418.5,272.8H445.9M418.5,270.2V275.4M445.9,270.2V275.4" stroke="#000" stroke-width="1.15" fill="none"/>
<path d="M490.5,261.3H522.8M490.5,258.7V263.9M522.8,258.7V263.9" stroke="#000" stroke-width="1.15" fill="none"/>
<path d="M514.4,247.8H522.4M522.4,245.2V250.4" stroke="#000" stroke-width="1.15" fill="none"/>
<path d="M530.0,248.1H546.4M530.0,245.5V250.7M546.4,245.5V250.7" stroke="#000" stroke-width="1.15" fill="none"/>
<path d="M531.7,242.8H563.7M531.7,240.2V245.4M563.7,240.2V245.4" stroke="#000" stroke-width="1.15" fill="none"/>
<path d="M570.8,230.9V250.9M568.2,230.9H573.4M568.2,250.9H573.4" stroke="#000" stroke-width="1.15" fill="none"/>
<path d="M608.7,260.6V276.6M606.1,260.6H611.3M606.1,276.6H611.3" stroke="#000" stroke-width="1.15" fill="none"/>
<path d="M533.2,291.4H562.0M533.2,288.8V294.0M562.0,288.8V294.0" stroke="#000" stroke-width="1.15" fill="none"/>
<path d="M584.0,276.9V298.9M581.4,298.9H586.6" stroke="#000" stroke-width="1.15" fill="none"/>
<path d="M596.5,285.4V291.4M593.9,285.4H599.1" stroke="#000" stroke-width="1.15" fill="none"/>
<path d="M584.0,297.3H601.0M584.0,294.7V299.9M601.0,294.7V299.9" stroke="#000" stroke-width="1.15" fill="none"/>
<path d="M599.4,287.4H617.6M599.4,284.8V290.0M617.6,284.8V290.0M608.4,267.4V295.6M605.8,267.4H611.0M605.8,295.6H611.0" stroke="#000" stroke-width="1.15" fill="none"/>
<path d="M616.2,191.4V209.4M613.6,191.4H618.8M613.6,209.4H618.8" stroke="#000" stroke-width="1.15" fill="none"/>
<path d="M565.0,242.0V258.0M562.4,242.0H567.6M562.4,258.0H567.6" stroke="#000" stroke-width="1.15" fill="none"/>
<path d="M438.5,4.9H447.6" stroke="#000" stroke-width="1.05"/>
<rect x="595.4" y="91.4" width="7.1" height="7.1" fill="#c0c0c0" stroke="#000" stroke-width="1.25"/>
<rect x="613.7" y="91.4" width="7.1" height="7.1" fill="#c0c0c0" stroke="#000" stroke-width="1.25"/>
<rect x="637.0" y="91.4" width="7.1" height="7.1" fill="#c0c0c0" stroke="#000" stroke-width="1.25"/>
<rect x="598.9" y="113.0" width="7.1" height="7.1" fill="#c0c0c0" stroke="#000" stroke-width="1.25"/>
<rect x="665.1" y="115.8" width="7.1" height="7.1" fill="#c0c0c0" stroke="#000" stroke-width="1.25"/>
<rect x="502.8" y="128.8" width="7.1" height="7.1" fill="#c0c0c0" stroke="#000" stroke-width="1.25"/>
<rect x="541.6" y="128.8" width="7.1" height="7.1" fill="#c0c0c0" stroke="#000" stroke-width="1.25"/>
<rect x="552.7" y="128.8" width="7.1" height="7.1" fill="#c0c0c0" stroke="#000" stroke-width="1.25"/>
<rect x="555.9" y="128.8" width="7.1" height="7.1" fill="#c0c0c0" stroke="#000" stroke-width="1.25"/>
<rect x="609.5" y="127.5" width="7.1" height="7.1" fill="#c0c0c0" stroke="#000" stroke-width="1.25"/>
<rect x="623.0" y="127.5" width="7.1" height="7.1" fill="#c0c0c0" stroke="#000" stroke-width="1.25"/>
<rect x="626.0" y="127.5" width="7.1" height="7.1" fill="#c0c0c0" stroke="#000" stroke-width="1.25"/>
<rect x="640.7" y="131.6" width="7.1" height="7.1" fill="#c0c0c0" stroke="#000" stroke-width="1.25"/>
<rect x="644.0" y="140.9" width="7.1" height="7.1" fill="#c0c0c0" stroke="#000" stroke-width="1.25"/>
<rect x="462.4" y="157.4" width="7.1" height="7.1" fill="#c0c0c0" stroke="#000" stroke-width="1.25"/>
<rect x="598.0" y="154.4" width="7.1" height="7.1" fill="#c0c0c0" stroke="#000" stroke-width="1.25"/>
<rect x="601.0" y="161.4" width="7.1" height="7.1" fill="#c0c0c0" stroke="#000" stroke-width="1.25"/>
<rect x="605.5" y="158.2" width="7.1" height="7.1" fill="#c0c0c0" stroke="#000" stroke-width="1.25"/>
<rect x="592.9" y="167.4" width="7.1" height="7.1" fill="#c0c0c0" stroke="#000" stroke-width="1.25"/>
<rect x="612.9" y="150.6" width="7.1" height="7.1" fill="#c0c0c0" stroke="#000" stroke-width="1.25"/>
<rect x="617.2" y="158.8" width="7.1" height="7.1" fill="#c0c0c0" stroke="#000" stroke-width="1.25"/>
<rect x="618.0" y="168.1" width="7.1" height="7.1" fill="#c0c0c0" stroke="#000" stroke-width="1.25"/>
<rect x="614.0" y="176.0" width="7.1" height="7.1" fill="#c0c0c0" stroke="#000" stroke-width="1.25"/>
<rect x="600.1" y="179.3" width="7.1" height="7.1" fill="#c0c0c0" stroke="#000" stroke-width="1.25"/>
<rect x="574.5" y="176.6" width="7.1" height="7.1" fill="#c0c0c0" stroke="#000" stroke-width="1.25"/>
<rect x="583.0" y="177.4" width="7.1" height="7.1" fill="#c0c0c0" stroke="#000" stroke-width="1.25"/>
<rect x="643.0" y="147.6" width="7.1" height="7.1" fill="#c0c0c0" stroke="#000" stroke-width="1.25"/>
<rect x="644.2" y="164.5" width="7.1" height="7.1" fill="#c0c0c0" stroke="#000" stroke-width="1.25"/>
<rect x="568.5" y="193.2" width="7.1" height="7.1" fill="#c0c0c0" stroke="#000" stroke-width="1.25"/>
<rect x="590.9" y="190.4" width="7.1" height="7.1" fill="#c0c0c0" stroke="#000" stroke-width="1.25"/>
<rect x="602.1" y="190.4" width="7.1" height="7.1" fill="#c0c0c0" stroke="#000" stroke-width="1.25"/>
<rect x="585.5" y="198.4" width="7.1" height="7.1" fill="#c0c0c0" stroke="#000" stroke-width="1.25"/>
<rect x="576.5" y="205.0" width="7.1" height="7.1" fill="#c0c0c0" stroke="#000" stroke-width="1.25"/>
<rect x="616.0" y="211.6" width="7.1" height="7.1" fill="#c0c0c0" stroke="#000" stroke-width="1.25"/>
<rect x="642.4" y="189.9" width="7.1" height="7.1" fill="#c0c0c0" stroke="#000" stroke-width="1.25"/>
<rect x="646.2" y="209.0" width="7.1" height="7.1" fill="#c0c0c0" stroke="#000" stroke-width="1.25"/>
<rect x="654.7" y="193.9" width="7.1" height="7.1" fill="#c0c0c0" stroke="#000" stroke-width="1.25"/>
<rect x="664.1" y="218.6" width="7.1" height="7.1" fill="#c0c0c0" stroke="#000" stroke-width="1.25"/>
<rect x="506.8" y="206.4" width="7.1" height="7.1" fill="#c0c0c0" stroke="#000" stroke-width="1.25"/>
<rect x="536.9" y="200.3" width="7.1" height="7.1" fill="#c0c0c0" stroke="#000" stroke-width="1.25"/>
<rect x="567.1" y="193.3" width="7.1" height="7.1" fill="#c0c0c0" stroke="#000" stroke-width="1.25"/>
<rect x="553.5" y="205.8" width="7.1" height="7.1" fill="#c0c0c0" stroke="#000" stroke-width="1.25"/>
<rect x="576.0" y="204.4" width="7.1" height="7.1" fill="#c0c0c0" stroke="#000" stroke-width="1.25"/>
<rect x="585.2" y="198.6" width="7.1" height="7.1" fill="#c0c0c0" stroke="#000" stroke-width="1.25"/>
<rect x="590.5" y="190.0" width="7.1" height="7.1" fill="#c0c0c0" stroke="#000" stroke-width="1.25"/>
<rect x="532.5" y="222.1" width="7.1" height="7.1" fill="#c0c0c0" stroke="#000" stroke-width="1.25"/>
<rect x="518.8" y="227.2" width="7.1" height="7.1" fill="#c0c0c0" stroke="#000" stroke-width="1.25"/>
<rect x="564.8" y="219.8" width="7.1" height="7.1" fill="#c0c0c0" stroke="#000" stroke-width="1.25"/>
<rect x="596.5" y="186.4" width="7.1" height="7.1" fill="#c0c0c0" stroke="#000" stroke-width="1.25"/>
<rect x="532.2" y="223.4" width="7.1" height="7.1" fill="#c0c0c0" stroke="#000" stroke-width="1.25"/>
<rect x="558.1" y="229.3" width="7.1" height="7.1" fill="#c0c0c0" stroke="#000" stroke-width="1.25"/>
<rect x="556.7" y="245.8" width="7.1" height="7.1" fill="#c0c0c0" stroke="#000" stroke-width="1.25"/>
<rect x="565.0" y="258.4" width="7.1" height="7.1" fill="#c0c0c0" stroke="#000" stroke-width="1.25"/>
<rect x="580.5" y="233.9" width="7.1" height="7.1" fill="#c0c0c0" stroke="#000" stroke-width="1.25"/>
<rect x="583.8" y="231.9" width="7.1" height="7.1" fill="#c0c0c0" stroke="#000" stroke-width="1.25"/>
<rect x="575.2" y="239.9" width="7.1" height="7.1" fill="#c0c0c0" stroke="#000" stroke-width="1.25"/>
<rect x="573.9" y="243.2" width="7.1" height="7.1" fill="#c0c0c0" stroke="#000" stroke-width="1.25"/>
<rect x="580.5" y="249.8" width="7.1" height="7.1" fill="#c0c0c0" stroke="#000" stroke-width="1.25"/>
<rect x="591.7" y="236.6" width="7.1" height="7.1" fill="#c0c0c0" stroke="#000" stroke-width="1.25"/>
<rect x="597.0" y="228.8" width="7.1" height="7.1" fill="#c0c0c0" stroke="#000" stroke-width="1.25"/>
<rect x="597.0" y="245.1" width="7.1" height="7.1" fill="#c0c0c0" stroke="#000" stroke-width="1.25"/>
<rect x="606.2" y="246.4" width="7.1" height="7.1" fill="#c0c0c0" stroke="#000" stroke-width="1.25"/>
<rect x="610.2" y="226.0" width="7.1" height="7.1" fill="#c0c0c0" stroke="#000" stroke-width="1.25"/>
<rect x="614.8" y="237.2" width="7.1" height="7.1" fill="#c0c0c0" stroke="#000" stroke-width="1.25"/>
<rect x="582.5" y="265.6" width="7.1" height="7.1" fill="#c0c0c0" stroke="#000" stroke-width="1.25"/>
<rect x="578.5" y="262.3" width="7.1" height="7.1" fill="#c0c0c0" stroke="#000" stroke-width="1.25"/>
<rect x="533.0" y="268.3" width="7.1" height="7.1" fill="#c0c0c0" stroke="#000" stroke-width="1.25"/>
<rect x="549.5" y="268.3" width="7.1" height="7.1" fill="#c0c0c0" stroke="#000" stroke-width="1.25"/>
<rect x="556.2" y="271.8" width="7.1" height="7.1" fill="#c0c0c0" stroke="#000" stroke-width="1.25"/>
<rect x="565.7" y="275.1" width="7.1" height="7.1" fill="#c0c0c0" stroke="#000" stroke-width="1.25"/>
<rect x="575.9" y="273.9" width="7.1" height="7.1" fill="#c0c0c0" stroke="#000" stroke-width="1.25"/>
<rect x="535.6" y="278.6" width="7.1" height="7.1" fill="#c0c0c0" stroke="#000" stroke-width="1.25"/>
<rect x="562.0" y="291.8" width="7.1" height="7.1" fill="#c0c0c0" stroke="#000" stroke-width="1.25"/>
<rect x="598.0" y="304.9" width="7.1" height="7.1" fill="#c0c0c0" stroke="#000" stroke-width="1.25"/>
<rect x="616.4" y="211.8" width="7.1" height="7.1" fill="#c0c0c0" stroke="#000" stroke-width="1.25"/>
<rect x="632.2" y="220.1" width="7.1" height="7.1" fill="#c0c0c0" stroke="#000" stroke-width="1.25"/>
<rect x="678.4" y="205.8" width="7.1" height="7.1" fill="#c0c0c0" stroke="#000" stroke-width="1.25"/>
<rect x="642.8" y="190.0" width="7.1" height="7.1" fill="#c0c0c0" stroke="#000" stroke-width="1.25"/>
<rect x="704.5" y="190.6" width="7.1" height="7.1" fill="#c0c0c0" stroke="#000" stroke-width="1.25"/>
<rect x="610.5" y="226.0" width="7.1" height="7.1" fill="#c0c0c0" stroke="#000" stroke-width="1.25"/>
<rect x="616.5" y="226.0" width="7.1" height="7.1" fill="#c0c0c0" stroke="#000" stroke-width="1.25"/>
<rect x="607.8" y="245.1" width="7.1" height="7.1" fill="#c0c0c0" stroke="#000" stroke-width="1.25"/>
<rect x="621.7" y="247.1" width="7.1" height="7.1" fill="#c0c0c0" stroke="#000" stroke-width="1.25"/>
<rect x="623.0" y="253.8" width="7.1" height="7.1" fill="#c0c0c0" stroke="#000" stroke-width="1.25"/>
<rect x="618.4" y="263.6" width="7.1" height="7.1" fill="#c0c0c0" stroke="#000" stroke-width="1.25"/>
<rect x="642.1" y="244.5" width="7.1" height="7.1" fill="#c0c0c0" stroke="#000" stroke-width="1.25"/>
<rect x="641.5" y="258.4" width="7.1" height="7.1" fill="#c0c0c0" stroke="#000" stroke-width="1.25"/>
<rect x="646.1" y="258.4" width="7.1" height="7.1" fill="#c0c0c0" stroke="#000" stroke-width="1.25"/>
<rect x="632.2" y="266.8" width="7.1" height="7.1" fill="#c0c0c0" stroke="#000" stroke-width="1.25"/>
<rect x="641.8" y="265.3" width="7.1" height="7.1" fill="#c0c0c0" stroke="#000" stroke-width="1.25"/>
<rect x="635.7" y="279.6" width="7.1" height="7.1" fill="#c0c0c0" stroke="#000" stroke-width="1.25"/>
<rect x="638.1" y="290.8" width="7.1" height="7.1" fill="#c0c0c0" stroke="#000" stroke-width="1.25"/>
<rect x="448.6" y="268.4" width="7.1" height="7.1" fill="#c0c0c0" stroke="#000" stroke-width="1.25"/>
<rect x="474.1" y="266.8" width="7.1" height="7.1" fill="#c0c0c0" stroke="#000" stroke-width="1.25"/>
<rect x="484.6" y="268.8" width="7.1" height="7.1" fill="#c0c0c0" stroke="#000" stroke-width="1.25"/>
<rect x="506.1" y="244.8" width="7.1" height="7.1" fill="#c0c0c0" stroke="#000" stroke-width="1.25"/>
<rect x="624.5" y="196.4" width="7.1" height="7.1" fill="#c0c0c0" stroke="#000" stroke-width="1.25"/>
<rect x="628.5" y="228.4" width="7.1" height="7.1" fill="#c0c0c0" stroke="#000" stroke-width="1.25"/>
<rect x="636.5" y="211.4" width="7.1" height="7.1" fill="#c0c0c0" stroke="#000" stroke-width="1.25"/>
<rect x="607.5" y="201.4" width="7.1" height="7.1" fill="#c0c0c0" stroke="#000" stroke-width="1.25"/>
<rect x="594.5" y="218.4" width="7.1" height="7.1" fill="#c0c0c0" stroke="#000" stroke-width="1.25"/>
<rect x="604.5" y="214.4" width="7.1" height="7.1" fill="#c0c0c0" stroke="#000" stroke-width="1.25"/>
<rect x="586.5" y="222.4" width="7.1" height="7.1" fill="#c0c0c0" stroke="#000" stroke-width="1.25"/>
<rect x="571.5" y="228.4" width="7.1" height="7.1" fill="#c0c0c0" stroke="#000" stroke-width="1.25"/>
<rect x="586.5" y="254.4" width="7.1" height="7.1" fill="#c0c0c0" stroke="#000" stroke-width="1.25"/>
<rect x="601.5" y="256.4" width="7.1" height="7.1" fill="#c0c0c0" stroke="#000" stroke-width="1.25"/>
<rect x="626.5" y="241.4" width="7.1" height="7.1" fill="#c0c0c0" stroke="#000" stroke-width="1.25"/>
<rect x="579.5" y="186.4" width="7.1" height="7.1" fill="#c0c0c0" stroke="#000" stroke-width="1.25"/>
<rect x="607.5" y="174.4" width="7.1" height="7.1" fill="#c0c0c0" stroke="#000" stroke-width="1.25"/>
<rect x="592.5" y="180.4" width="7.1" height="7.1" fill="#c0c0c0" stroke="#000" stroke-width="1.25"/>
<path d="M570.5,51.3H579.5L575.0,59.8Z" fill="#fff" stroke="#000" stroke-width="1"/>
<path d="M445.3,156.2H454.3L449.8,164.7Z" fill="#fff" stroke="#000" stroke-width="1"/>
<path d="M552.2,154.5H561.2L556.7,163.0Z" fill="#fff" stroke="#000" stroke-width="1"/>
<path d="M428.3,269.0H437.3L432.8,277.5Z" fill="#fff" stroke="#000" stroke-width="1"/>
<path d="M505.1,257.5H514.1L509.6,266.0Z" fill="#fff" stroke="#000" stroke-width="1"/>
<path d="M509.9,244.0H518.9L514.4,252.5Z" fill="#fff" stroke="#000" stroke-width="1"/>
<path d="M532.3,244.3H541.3L536.8,252.8Z" fill="#fff" stroke="#000" stroke-width="1"/>
<path d="M547.2,239.0H556.2L551.7,247.5Z" fill="#fff" stroke="#000" stroke-width="1"/>
<path d="M566.3,235.1H575.3L570.8,243.6Z" fill="#fff" stroke="#000" stroke-width="1"/>
<path d="M604.2,262.8H613.2L608.7,271.3Z" fill="#fff" stroke="#000" stroke-width="1"/>
<path d="M543.2,287.6H552.2L547.7,296.1Z" fill="#fff" stroke="#000" stroke-width="1"/>
<path d="M579.5,273.1H588.5L584.0,281.6Z" fill="#fff" stroke="#000" stroke-width="1"/>
<path d="M592.0,287.6H601.0L596.5,296.1Z" fill="#fff" stroke="#000" stroke-width="1"/>
<path d="M588.7,293.5H597.7L593.2,302.0Z" fill="#fff" stroke="#000" stroke-width="1"/>
<path d="M603.9,283.6H612.9L608.4,292.1Z" fill="#fff" stroke="#000" stroke-width="1"/>
<path d="M604.1,283.9H613.1L608.6,292.4Z" fill="#fff" stroke="#000" stroke-width="1"/>
<path d="M611.7,197.6H620.7L616.2,206.1Z" fill="#fff" stroke="#000" stroke-width="1"/>
<path d="M560.5,246.2H569.5L565.0,254.7Z" fill="#fff" stroke="#000" stroke-width="1"/>
<path d="M418.5,181.0 C427.1,181.2 451.4,181.7 470.0,182.0 C488.6,182.3 515.0,183.1 530.0,183.0 C545.0,182.9 551.2,182.8 560.0,181.5 C568.8,180.2 576.5,177.1 583.0,175.5 C589.5,173.9 593.5,173.1 599.0,171.7 C604.5,170.3 610.8,168.9 616.0,167.0 C621.2,165.1 626.0,163.0 630.0,160.5 C634.0,158.0 637.2,154.5 640.0,152.0 C642.8,149.5 643.7,148.8 647.0,145.5 C650.3,142.2 656.5,136.3 660.0,132.5 C663.5,128.7 663.2,128.6 668.0,122.9 C672.8,117.2 683.4,105.1 689.0,98.4 C694.6,91.7 697.5,86.9 701.7,82.5 C706.0,78.1 711.6,75.2 714.5,72.0 C717.4,68.8 718.5,64.5 719.3,63.0" fill="none" stroke="#8b0000" stroke-width="3.6" stroke-dasharray="13.0,5.67"/>
<path d="M418.5,209.5 C423.7,208.8 437.9,206.8 449.8,205.5 C461.7,204.2 476.4,203.5 489.7,201.5 C503.0,199.5 517.0,196.0 529.5,193.5 C542.0,191.0 554.3,187.9 564.4,186.3 C574.5,184.8 581.4,184.4 590.0,184.2 C598.6,184.0 607.2,184.4 616.0,185.0 C624.8,185.6 634.9,186.6 642.6,187.5 C650.3,188.4 654.8,189.6 662.0,190.7 C669.2,191.8 678.6,193.5 685.8,194.2 C693.0,194.9 698.9,196.3 705.0,195.0 C711.1,193.7 719.6,187.7 722.5,186.2" fill="none" stroke="#32cd32" stroke-width="3.6"/>
<path d="M418.5,252.0 C427.7,249.4 457.8,240.4 473.7,236.2 C489.6,232.0 501.7,229.1 513.6,226.6 C525.5,224.1 534.3,222.6 545.0,221.0 C555.7,219.4 568.8,218.6 578.0,217.3 C587.2,216.0 593.0,214.8 600.0,213.0 C607.0,211.2 614.0,208.8 620.0,206.5 C626.0,204.2 631.0,202.0 636.0,199.5 C641.0,197.0 645.7,194.2 650.0,191.5 C654.3,188.8 657.9,185.7 662.0,183.0 C666.1,180.3 669.9,178.3 674.7,175.5 C679.5,172.7 685.3,168.7 690.6,166.3 C695.9,163.9 701.5,162.0 706.5,161.2 C711.5,160.3 718.5,161.2 720.9,161.2" fill="none" stroke="#87ceeb" stroke-width="3.6" stroke-dasharray="12.95,5.61"/>
<path d="M484.6,224.6V237.4M482.0,224.6H487.2M482.0,237.4H487.2" stroke="#0000ff" stroke-width="1.1" fill="none"/>
<path d="M479.0,231.0L484.6,225.4L490.2,231.0L484.6,236.6Z" fill="#0000ff" stroke="#0000ff" stroke-width="0.8"/>
<path d="M556.5,203.5V233.0M553.9,203.5H559.1M553.9,233.0H559.1" stroke="#0000ff" stroke-width="1.1" fill="none"/>
<path d="M550.9,218.0L556.5,212.4L562.1,218.0L556.5,223.6Z" fill="#0000ff" stroke="#0000ff" stroke-width="0.8"/>
<path d="M614.2,181.5V199.5M611.6,181.5H616.8M611.6,199.5H616.8" stroke="#0000ff" stroke-width="1.1" fill="none"/>
<path d="M608.6,189.5L614.2,183.9L619.8,189.5L614.2,195.1Z" fill="#0000ff" stroke="#0000ff" stroke-width="0.8"/>
<path d="M634.6,186.0V202.0M632.0,186.0H637.2M632.0,202.0H637.2" stroke="#0000ff" stroke-width="1.1" fill="none"/>
<path d="M629.0,194.0L634.6,188.4L640.2,194.0L634.6,199.6Z" fill="#0000ff" stroke="#0000ff" stroke-width="0.8"/>
<path d="M638.6,201.6V226.6M636.0,201.6H641.2M636.0,226.6H641.2" stroke="#0000ff" stroke-width="1.1" fill="none"/>
<path d="M633.0,209.6L638.6,204.0L644.2,209.6L638.6,215.2Z" fill="#0000ff" stroke="#0000ff" stroke-width="0.8"/>
<path d="M671.8,179.8V195.8M669.2,179.8H674.4M669.2,195.8H674.4" stroke="#0000ff" stroke-width="1.1" fill="none"/>
<path d="M666.2,187.8L671.8,182.2L677.4,187.8L671.8,193.4Z" fill="#0000ff" stroke="#0000ff" stroke-width="0.8"/>
<path d="M666.7,150.0V171.6M664.1,150.0H669.3M664.1,171.6H669.3" stroke="#0000ff" stroke-width="1.1" fill="none"/>
<path d="M661.1,160.7L666.7,155.1L672.3,160.7L666.7,166.3Z" fill="#0000ff" stroke="#0000ff" stroke-width="0.8"/>
<path d="M695.8,143.2V176.3M693.2,143.2H698.4M693.2,176.3H698.4" stroke="#0000ff" stroke-width="1.1" fill="none"/>
<path d="M690.2,160.7L695.8,155.1L701.4,160.7L695.8,166.3Z" fill="#0000ff" stroke="#0000ff" stroke-width="0.8"/>
<path d="M517.5,210.5V223.3M514.3,210.5H520.7M514.3,223.3H520.7" stroke="#ff00ff" stroke-width="2.6" fill="none"/>
<circle cx="517.5" cy="216.9" r="5.9" fill="#ff00ff"/>
<path d="M544.6,208.9V221.7M541.4,208.9H547.8M541.4,221.7H547.8" stroke="#ff00ff" stroke-width="2.6" fill="none"/>
<circle cx="544.6" cy="215.3" r="5.9" fill="#ff00ff"/>
<path d="M572.2,207.9V221.1M569.0,207.9H575.4M569.0,221.1H575.4" stroke="#ff00ff" stroke-width="2.6" fill="none"/>
<circle cx="572.2" cy="214.5" r="5.9" fill="#ff00ff"/>
<path d="M600.0,203.4V221.0M596.8,203.4H603.2M596.8,221.0H603.2" stroke="#ff00ff" stroke-width="2.6" fill="none"/>
<circle cx="600" cy="212" r="5.9" fill="#ff00ff"/>
<path d="M627.4,181.0V210.4M624.2,181.0H630.6M624.2,210.4H630.6" stroke="#ff00ff" stroke-width="2.6" fill="none"/>
<circle cx="627.4" cy="195.4" r="5.9" fill="#ff00ff"/>
<path d="M655.0,174.0V211.3M651.8,174.0H658.2M651.8,211.3H658.2" stroke="#ff00ff" stroke-width="2.6" fill="none"/>
<circle cx="655" cy="192.3" r="5.9" fill="#ff00ff"/>
<path d="M533.0,101.4H627.7M533.0,98.8V104.0M627.7,98.8V104.0M580.2,37.0V166.2M577.6,37.0H582.8M577.6,166.2H582.8" stroke="#ff0000" stroke-width="1.35" fill="none"/>
<rect x="573.6" y="94.8" width="13.2" height="13.2" fill="#ff0000" stroke="#000" stroke-width="1.6"/>
</g>
<rect x="418.5" y="4.5" width="330.0" height="324.0" fill="none" stroke="#3c3c3c" stroke-width="0.9"/>
<line x1="415.0" x2="418.5" y1="328.50" y2="328.50" stroke="#3c3c3c" stroke-width="0.9"/>
<text x="413.30" y="332.60" font-size="11.3" fill="#000" text-anchor="end" textLength="6.60" lengthAdjust="spacingAndGlyphs"  stroke="#000" stroke-width="0.25">0</text>
<line x1="415.0" x2="418.5" y1="274.50" y2="274.50" stroke="#3c3c3c" stroke-width="0.9"/>
<text x="413.30" y="278.60" font-size="11.3" fill="#000" text-anchor="end" textLength="6.60" lengthAdjust="spacingAndGlyphs"  stroke="#000" stroke-width="0.25">1</text>
<line x1="415.0" x2="418.5" y1="220.50" y2="220.50" stroke="#3c3c3c" stroke-width="0.9"/>
<text x="413.30" y="224.60" font-size="11.3" fill="#000" text-anchor="end" textLength="6.60" lengthAdjust="spacingAndGlyphs"  stroke="#000" stroke-width="0.25">2</text>
<line x1="415.0" x2="418.5" y1="166.50" y2="166.50" stroke="#3c3c3c" stroke-width="0.9"/>
<text x="413.30" y="170.60" font-size="11.3" fill="#000" text-anchor="end" textLength="6.60" lengthAdjust="spacingAndGlyphs"  stroke="#000" stroke-width="0.25">3</text>
<line x1="415.0" x2="418.5" y1="112.50" y2="112.50" stroke="#3c3c3c" stroke-width="0.9"/>
<text x="413.30" y="116.60" font-size="11.3" fill="#000" text-anchor="end" textLength="6.60" lengthAdjust="spacingAndGlyphs"  stroke="#000" stroke-width="0.25">4</text>
<line x1="415.0" x2="418.5" y1="58.50" y2="58.50" stroke="#3c3c3c" stroke-width="0.9"/>
<text x="413.30" y="62.60" font-size="11.3" fill="#000" text-anchor="end" textLength="6.60" lengthAdjust="spacingAndGlyphs"  stroke="#000" stroke-width="0.25">5</text>
<line x1="415.0" x2="418.5" y1="4.50" y2="4.50" stroke="#3c3c3c" stroke-width="0.9"/>
<text x="413.30" y="8.60" font-size="11.3" fill="#000" text-anchor="end" textLength="6.60" lengthAdjust="spacingAndGlyphs"  stroke="#000" stroke-width="0.25">6</text>
<line x1="418.50" x2="418.50" y1="328.5" y2="332.0" stroke="#3c3c3c" stroke-width="0.9"/>
<text x="405.35" y="341.9" font-size="11.3" textLength="26.3" lengthAdjust="spacingAndGlyphs" stroke="#000" stroke-width="0.25">10<tspan font-size="8.5" dy="-4.9">−2</tspan></text>
<line x1="451.61" x2="451.61" y1="328.5" y2="330.5" stroke="#3c3c3c" stroke-width="0.7"/>
<line x1="470.98" x2="470.98" y1="328.5" y2="330.5" stroke="#3c3c3c" stroke-width="0.7"/>
<line x1="484.73" x2="484.73" y1="328.5" y2="330.5" stroke="#3c3c3c" stroke-width="0.7"/>
<line x1="495.39" x2="495.39" y1="328.5" y2="330.5" stroke="#3c3c3c" stroke-width="0.7"/>
<line x1="504.10" x2="504.10" y1="328.5" y2="330.5" stroke="#3c3c3c" stroke-width="0.7"/>
<line x1="511.46" x2="511.46" y1="328.5" y2="330.5" stroke="#3c3c3c" stroke-width="0.7"/>
<line x1="517.84" x2="517.84" y1="328.5" y2="330.5" stroke="#3c3c3c" stroke-width="0.7"/>
<line x1="523.47" x2="523.47" y1="328.5" y2="330.5" stroke="#3c3c3c" stroke-width="0.7"/>
<line x1="528.50" x2="528.50" y1="328.5" y2="332.0" stroke="#3c3c3c" stroke-width="0.9"/>
<text x="515.35" y="341.9" font-size="11.3" textLength="26.3" lengthAdjust="spacingAndGlyphs" stroke="#000" stroke-width="0.25">10<tspan font-size="8.5" dy="-4.9">−1</tspan></text>
<line x1="561.61" x2="561.61" y1="328.5" y2="330.5" stroke="#3c3c3c" stroke-width="0.7"/>
<line x1="580.98" x2="580.98" y1="328.5" y2="330.5" stroke="#3c3c3c" stroke-width="0.7"/>
<line x1="594.73" x2="594.73" y1="328.5" y2="330.5" stroke="#3c3c3c" stroke-width="0.7"/>
<line x1="605.39" x2="605.39" y1="328.5" y2="330.5" stroke="#3c3c3c" stroke-width="0.7"/>
<line x1="614.10" x2="614.10" y1="328.5" y2="330.5" stroke="#3c3c3c" stroke-width="0.7"/>
<line x1="621.46" x2="621.46" y1="328.5" y2="330.5" stroke="#3c3c3c" stroke-width="0.7"/>
<line x1="627.84" x2="627.84" y1="328.5" y2="330.5" stroke="#3c3c3c" stroke-width="0.7"/>
<line x1="633.47" x2="633.47" y1="328.5" y2="330.5" stroke="#3c3c3c" stroke-width="0.7"/>
<line x1="638.50" x2="638.50" y1="328.5" y2="332.0" stroke="#3c3c3c" stroke-width="0.9"/>
<text x="628.85" y="341.9" font-size="11.3" textLength="19.3" lengthAdjust="spacingAndGlyphs" stroke="#000" stroke-width="0.25">10<tspan font-size="8.5" dy="-4.9">0</tspan></text>
<line x1="671.61" x2="671.61" y1="328.5" y2="330.5" stroke="#3c3c3c" stroke-width="0.7"/>
<line x1="690.98" x2="690.98" y1="328.5" y2="330.5" stroke="#3c3c3c" stroke-width="0.7"/>
<line x1="704.73" x2="704.73" y1="328.5" y2="330.5" stroke="#3c3c3c" stroke-width="0.7"/>
<line x1="715.39" x2="715.39" y1="328.5" y2="330.5" stroke="#3c3c3c" stroke-width="0.7"/>
<line x1="724.10" x2="724.10" y1="328.5" y2="330.5" stroke="#3c3c3c" stroke-width="0.7"/>
<line x1="731.46" x2="731.46" y1="328.5" y2="330.5" stroke="#3c3c3c" stroke-width="0.7"/>
<line x1="737.84" x2="737.84" y1="328.5" y2="330.5" stroke="#3c3c3c" stroke-width="0.7"/>
<line x1="743.47" x2="743.47" y1="328.5" y2="330.5" stroke="#3c3c3c" stroke-width="0.7"/>
<line x1="748.50" x2="748.50" y1="328.5" y2="332.0" stroke="#3c3c3c" stroke-width="0.9"/>
<text x="738.85" y="341.9" font-size="11.3" textLength="19.3" lengthAdjust="spacingAndGlyphs" stroke="#000" stroke-width="0.25">10<tspan font-size="8.5" dy="-4.9">1</tspan></text>
<g transform="translate(400.5,166.8) rotate(-90)"><text x="-12.2" y="0.3" font-size="12" textLength="24.4" lengthAdjust="spacingAndGlyphs" stroke="#000" stroke-width="0.25"><tspan font-style="italic">z</tspan><tspan font-size="8.6" dy="2.4">best</tspan></text></g>
<text x="552" y="356.9" font-size="11.6" textLength="62.2" lengthAdjust="spacingAndGlyphs" stroke="#000" stroke-width="0.25"><tspan font-style="italic">f</tspan><tspan font-size="8.4" dy="2.2">1150</tspan><tspan dy="-2.2"> [mJy]</tspan></text>
<text x="571.60" y="76.10" font-size="10.9" fill="#ff0000" text-anchor="end" textLength="118.10" lengthAdjust="spacingAndGlyphs"  stroke="#ff0000" stroke-width="0.1">optical/near-IR-dark</text>
<text x="571.60" y="88.80" font-size="10.9" fill="#ff0000" text-anchor="end" textLength="137.10" lengthAdjust="spacingAndGlyphs"  stroke="#ff0000" stroke-width="0.1">Herschel-faint galaxies</text>
<text x="420.80" y="177.50" font-size="10.5" fill="#8b0000" text-anchor="start" textLength="105.50" lengthAdjust="spacingAndGlyphs"  stroke="#8b0000" stroke-width="0.1">Casey+18 (dust-rich)</text>
<text x="420.80" y="202.30" font-size="10.5" fill="#32cd32" text-anchor="start" textLength="50.10" lengthAdjust="spacingAndGlyphs"  stroke="#32cd32" stroke-width="0.1">Lagos+20</text>
<g transform="translate(422,263) rotate(-15.4)"><text x="0" y="0" font-size="10.5" fill="#87ceeb" textLength="110" lengthAdjust="spacingAndGlyphs" stroke="#87ceeb" stroke-width="0.1">Casey+18 (dust-poor)</text></g>
<text x="666.8" y="133.5" font-size="11" fill="#0000ff" textLength="74.4" lengthAdjust="spacingAndGlyphs" stroke="#0000ff" stroke-width="0.1"><tspan font-style="italic">z</tspan><tspan font-size="8.2" dy="2.2">med</tspan><tspan dy="-2.2">( &gt; </tspan><tspan font-style="italic">f</tspan><tspan font-size="8.2" dy="2.2">1150</tspan><tspan dy="-2.2">)</tspan></text>
<text x="705.20" y="147.00" font-size="11" fill="#0000ff" text-anchor="middle" textLength="57.60" lengthAdjust="spacingAndGlyphs"  stroke="#0000ff" stroke-width="0.1">Literature</text>
<text x="666.8" y="233.5" font-size="11" fill="#ff00ff" textLength="74.4" lengthAdjust="spacingAndGlyphs" stroke="#ff00ff" stroke-width="0.1"><tspan font-style="italic">z</tspan><tspan font-size="8.2" dy="2.2">med</tspan><tspan dy="-2.2">( &gt; </tspan><tspan font-style="italic">f</tspan><tspan font-size="8.2" dy="2.2">1150</tspan><tspan dy="-2.2">)</tspan></text>
<text x="704.80" y="247.80" font-size="11" fill="#ff00ff" text-anchor="middle" textLength="58.40" lengthAdjust="spacingAndGlyphs"  stroke="#ff00ff" stroke-width="0.1">This Work</text>
<path d="M425.8,303.9H436.2M425.8,301.3V306.5M436.2,301.3V306.5M431.0,298.7V309.1M428.4,298.7H433.6M428.4,309.1H433.6" stroke="#000" stroke-width="1.4" fill="none"/>
<rect x="427.4" y="300.3" width="7.1" height="7.1" fill="#c0c0c0" stroke="#000" stroke-width="1.25"/>
<text x="446.70" y="308.00" font-size="10.4" fill="#000" text-anchor="start" textLength="67.70" lengthAdjust="spacingAndGlyphs"  stroke="#000" stroke-width="0.25">Main Sample</text>
<path d="M425.8,319.7H436.2M425.8,317.1V322.3M436.2,317.1V322.3M431.0,315.1V325.5M428.4,315.1H433.6M428.4,325.5H433.6" stroke="#000" stroke-width="1.2" fill="none"/>
<path d="M426.5,315.9H435.5L431.0,324.4Z" fill="#fff" stroke="#000" stroke-width="1"/>
<text x="446.70" y="323.30" font-size="10.4" fill="#000" text-anchor="start" textLength="98.50" lengthAdjust="spacingAndGlyphs"  stroke="#000" stroke-width="0.25">Secondary Sample</text>
</svg>
</body></html>
